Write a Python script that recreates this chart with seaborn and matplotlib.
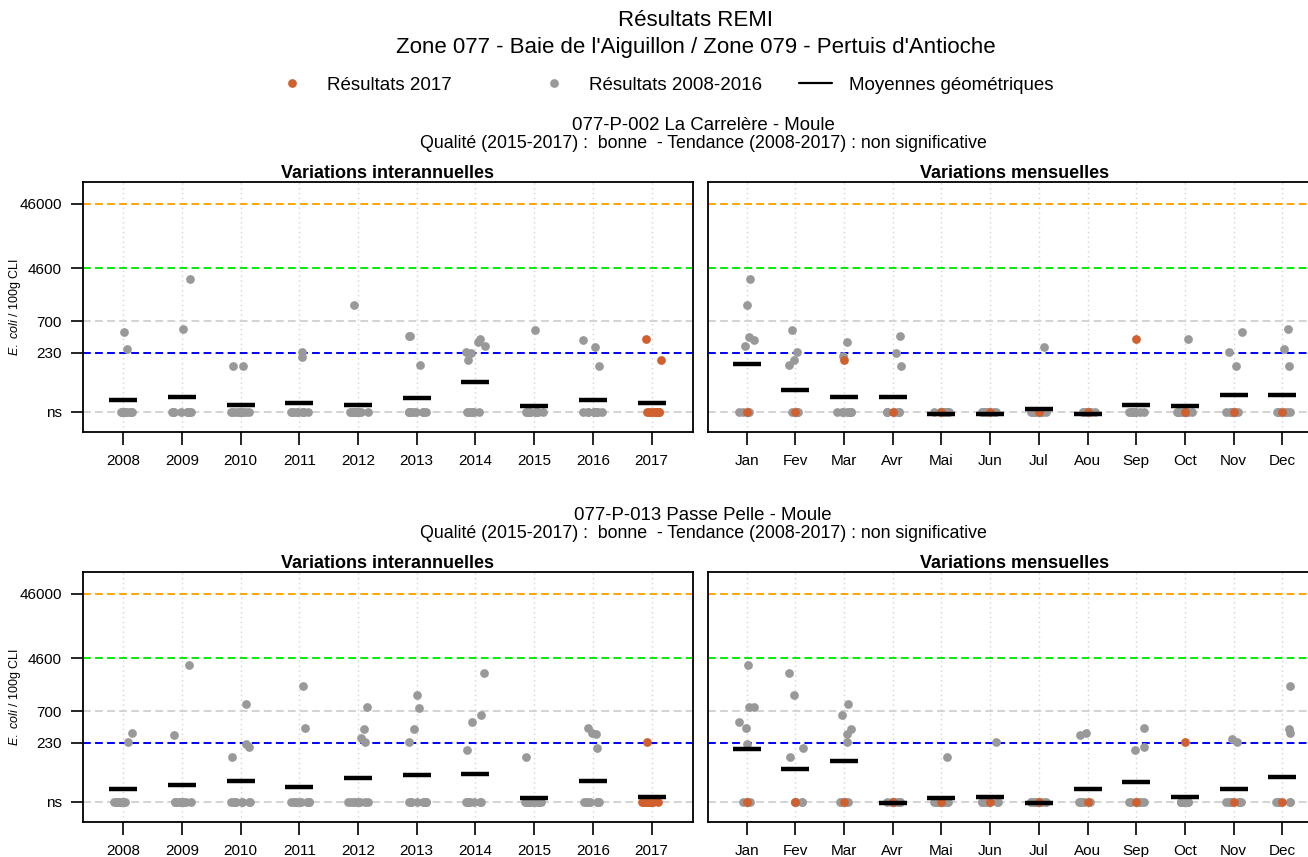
import numpy as np
import pandas as pd
import matplotlib
matplotlib.use('Agg')
import matplotlib.pyplot as plt
import seaborn as sns
from matplotlib.lines import Line2D
from matplotlib.ticker import NullLocator

sns.set_style('ticks')
plt.rcParams['font.family'] = ['Liberation Sans', 'DejaVu Sans']
plt.rcParams['mathtext.fontset'] = 'custom'
plt.rcParams['mathtext.it'] = 'Liberation Sans:italic'
plt.rcParams['mathtext.rm'] = 'Liberation Sans'
plt.rcParams['text.color'] = 'black'
plt.rcParams['xtick.color'] = 'black'
plt.rcParams['ytick.color'] = 'black'
plt.rcParams['axes.titlecolor'] = 'black'

# position des résultats "ns" sur l'axe
NS = 28

annees = ['2008', '2009', '2010', '2011', '2012', '2013', '2014', '2015', '2016', '2017']
mois = ['Jan', 'Fev', 'Mar', 'Avr', 'Mai', 'Jun', 'Jul', 'Aou', 'Sep', 'Oct', 'Nov', 'Dec']

# Station 077-P-002 La Carrelère - Moule
s1_annee_gris = [[483, 261], [531, 3110], [142, 142], [200, 237], [1233],
                 [408, 408, 149], [293, 338, 371, 231, 224, 174], [512],
                 [276, 355, 142], []]
s1_annee_gris_ns = [10, 10, 10, 10, 11, 9, 6, 11, 9, 0]
s1_annee_2017 = [[], [], [], [], [], [], [], [], [], [371, 174]]
s1_annee_2017_ns = [0, 0, 0, 0, 0, 0, 0, 0, 0, 10]
s1_annee_moy = [43, 48, 35, 38, 35, 45, 80, 34, 43, 38]

s1_mois_gris = [[3110, 1233, 355, 399, 293], [512, 237, 174, 149], [338, 205],
                [408, 224, 142], [], [], [276], [], [], [371],
                [483, 237, 142], [531, 261, 142]]
s1_mois_gris_ns = [4, 5, 7, 6, 9, 9, 8, 9, 9, 8, 6, 6]
s1_mois_2017 = [[], [], [174], [], [], [], [], [], [371], [], [], []]
s1_mois_2017_ns = [1, 1, 0, 1, 1, 1, 1, 1, 0, 1, 1, 1]
s1_mois_moy = [151, 60, 48, 48, 26, 26, 31, 26, 35, 34, 50, 50]

# Station 077-P-013 Passe Pelle - Moule
s2_annee_gris = [[319, 232], [3630, 301], [925, 219, 199, 140], [1727, 390],
                 [830, 372, 267, 232], [1257, 792, 372, 232],
                 [2700, 611, 471, 179], [140], [390, 319, 307, 190], []]
s2_annee_gris_ns = [10, 10, 8, 10, 8, 8, 8, 11, 8, 0]
s2_annee_2017 = [[], [], [], [], [], [], [], [], [], [232]]
s2_annee_2017_ns = [0, 0, 0, 0, 0, 0, 0, 0, 0, 11]
s2_annee_moy = [44, 51, 59, 48, 66, 73, 76, 32, 59, 33]

s2_mois_gris = [[3630, 830, 810, 471, 390, 219], [2700, 1257, 188, 140],
                [925, 611, 372, 312, 232], [], [140], [232], [], [319, 301],
                [390, 199, 179], [], [232, 261], [1727, 319, 372]]
s2_mois_gris_ns = [3, 5, 4, 9, 8, 8, 9, 7, 6, 9, 7, 6]
s2_mois_2017 = [[], [], [], [], [], [], [], [], [], [232], [], []]
s2_mois_2017_ns = [1, 1, 1, 1, 1, 1, 1, 1, 1, 0, 1, 1]
s2_mois_moy = [181, 90, 118, 27, 32, 33, 27, 44, 56, 33, 44, 67]

seuils = [46000, 4600, 700, 230, NS]
seuils_couleurs = ['#FFA500', '#00EE00', '#D3D3D3', '#0000FF', '#D3D3D3']
ticks_labels = ['46000', '4600', '700', '230', 'ns']

GRIS = '#999999'
ORANGE = '#D0612E'

W, H = 1308, 857


def tableau(cats, valeurs, n_ns):
    lignes = []
    for c, vals, n in zip(cats, valeurs, n_ns):
        for v in list(vals) + [NS] * n:
            lignes.append((c, v))
    return pd.DataFrame(lignes, columns=['cat', 'val'])


def panneau(ax, cats, gris, gris_ns, orange, orange_ns, moy, titre, gauche):
    for v, c in zip(seuils, seuils_couleurs):
        ax.axhline(v, color=c, ls=(0, (4, 2.2)), lw=1.4, zorder=1)
    for i in range(len(cats)):
        ax.axvline(i, color='#D3D3D3', ls=(0, (1, 2.5)), lw=1, zorder=0)

    df_g = tableau(cats, gris, gris_ns)
    df_o = tableau(cats, orange, orange_ns)
    sns.stripplot(data=df_g, x='cat', y='val', order=cats, color=GRIS, size=6.3,
                  jitter=0.17, linewidth=0, ax=ax, zorder=3)
    sns.stripplot(data=df_o, x='cat', y='val', order=cats, color=ORANGE, size=6.3,
                  jitter=0.17, linewidth=0, ax=ax, zorder=4)
    sns.pointplot(x=cats, y=moy, order=cats, color='black', markers='_',
                  linestyle='none', markersize=19.5, markeredgewidth=3.2,
                  errorbar=None, ax=ax, zorder=5)

    ax.set_yscale('log')
    ax.set_ylim(13.6, 1.0e5)
    ax.set_yticks(seuils)
    ax.set_yticklabels(ticks_labels)
    ax.yaxis.set_minor_locator(NullLocator())
    ax.set_xticks(range(len(cats)))
    ax.set_xticklabels(cats)
    ax.set_xlabel('')
    ax.set_ylabel('')
    ax.tick_params(axis='x', length=9, width=1.2, pad=7, labelsize=11)
    if gauche:
        ax.set_xlim(-0.69, 9.71)
        ax.tick_params(axis='y', length=9, width=1.2, pad=6, labelsize=11)
    else:
        ax.set_xlim(-0.8, 11.8)
        ax.tick_params(axis='y', left=False, labelleft=False)
    for s in ax.spines.values():
        s.set_color('black')
        s.set_linewidth(1.3)
    ax.set_title(titre, fontsize=13, fontweight='bold', pad=3)


np.random.seed(0)
fig = plt.figure(figsize=(W / 100, H / 100), dpi=100)

stations = [
    ('077-P-002 La Carrelère - Moule', 182,
     (s1_annee_gris, s1_annee_gris_ns, s1_annee_2017, s1_annee_2017_ns, s1_annee_moy),
     (s1_mois_gris, s1_mois_gris_ns, s1_mois_2017, s1_mois_2017_ns, s1_mois_moy)),
    ('077-P-013 Passe Pelle - Moule', 572,
     (s2_annee_gris, s2_annee_gris_ns, s2_annee_2017, s2_annee_2017_ns, s2_annee_moy),
     (s2_mois_gris, s2_mois_gris_ns, s2_mois_2017, s2_mois_2017_ns, s2_mois_moy)),
]

for nom, haut, d_annee, d_mois in stations:
    bas = 1 - (haut + 250) / H
    ax1 = fig.add_axes([82.7 / W, bas, 610.5 / W, 250 / H])
    ax2 = fig.add_axes([707.7 / W, bas, 613.6 / W, 250 / H])
    panneau(ax1, annees, *d_annee, 'Variations interannuelles', True)
    panneau(ax2, mois, *d_mois, 'Variations mensuelles', False)

    fig.text(703 / W, 1 - (haut - 57) / H, nom, ha='center', va='center', fontsize=13.4)
    fig.text(703 / W, 1 - (haut - 38) / H,
             'Qualité (2015-2017) :  bonne  - Tendance (2008-2017) : non significative',
             ha='center', va='center', fontsize=12.8)
    fig.text(15 / W, 1 - (haut + 125) / H, r'$\mathit{E.\ coli}$ / 100g CLI',
             rotation=90, ha='center', va='center', fontsize=9)

# titre général
fig.text(696 / W, 1 - 21 / H, 'Résultats REMI', ha='center', va='center', fontsize=16)
fig.text(696 / W, 1 - 48 / H, "Zone 077 - Baie de l'Aiguillon / Zone 079 - Pertuis d'Antioche",
         ha='center', va='center', fontsize=16)

# légende
y_leg = 1 - 85 / H
fig.add_artist(Line2D([292 / W], [1 - 83 / H], marker='o', color=ORANGE, ms=6.3,
                      mew=0, transform=fig.transFigure))
fig.text(327 / W, y_leg, 'Résultats 2017', va='center', fontsize=13.5)
fig.add_artist(Line2D([554 / W], [1 - 83 / H], marker='o', color=GRIS, ms=6.3,
                      mew=0, transform=fig.transFigure))
fig.text(589 / W, y_leg, 'Résultats 2008-2016', va='center', fontsize=13.5)
fig.add_artist(Line2D([799 / W, 832 / W], [1 - 83 / H, 1 - 83 / H], color='black', lw=1.6,
                      transform=fig.transFigure))
fig.text(849 / W, y_leg, 'Moyennes géométriques', va='center', fontsize=13.5)

plt.savefig('out.png', dpi=100)
